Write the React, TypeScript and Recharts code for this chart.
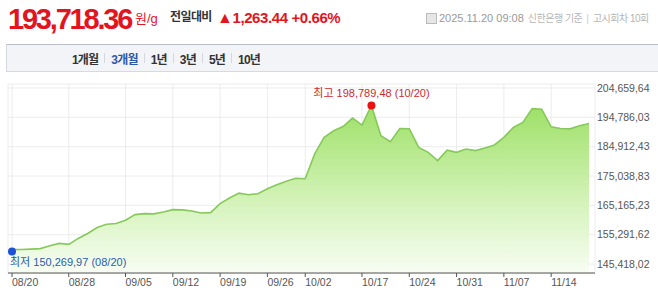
import React from 'react';
import { AreaChart, Area, XAxis, YAxis, CartesianGrid } from 'recharts';

// 신한은행 금 시세 (원/g), 영업일 기준 3개월
const dates = [
    '08/20', '08/21', '08/22', '08/25', '08/26', '08/27', '08/28', '08/29',
    '09/01', '09/02', '09/03', '09/04', '09/05', '09/08', '09/09', '09/10', '09/11', '09/12',
    '09/15', '09/16', '09/17', '09/18', '09/19', '09/22', '09/23', '09/24', '09/25', '09/26',
    '09/29', '09/30', '10/01', '10/02', '10/10', '10/13', '10/14', '10/15', '10/16', '10/17',
    '10/20', '10/21', '10/22', '10/23', '10/24', '10/27', '10/28', '10/29', '10/30', '10/31',
    '11/03', '11/04', '11/05', '11/06', '11/07', '11/10', '11/11', '11/12', '11/13', '11/14',
    '11/17', '11/18', '11/19', '11/20'
];

const prices = [
    150269.97, 150300, 150440, 150600, 151543, 152346, 152012, 154020,
    155693, 157701, 158806, 159040, 160145, 162053, 162387, 162300, 162923, 163726,
    163650, 163258, 162588, 162722, 165734, 167609, 169282, 168747, 169081, 170755,
    172094, 173298, 174303, 174102, 182469, 188025, 190268, 191707, 194518, 192175,
    198789.48, 188594, 186586, 191038, 190950, 184678, 183005, 180227, 183741, 183005,
    184143, 183574, 184478, 185482, 188025, 191372, 193046, 197732, 197531, 191607,
    191038, 190900, 191941, 192711
];

const tickDates = ['08/20', '08/28', '09/05', '09/12', '09/19', '09/26', '10/02', '10/17', '10/24', '10/31', '11/07', '11/14'];
const yTicks = [145418.02, 155291.62, 165165.23, 175038.83, 184912.43, 194786.03, 204659.64];
const periods = ['1개월', '3개월', '1년', '3년', '5년', '10년'];
const activePeriod = '3개월';

const data = dates.map((d, i) => ({ i, date: d, price: prices[i] }));
const tickIdx = tickDates.map((d) => dates.indexOf(d));
const maxIdx = prices.indexOf(Math.max(...prices));
const minIdx = prices.indexOf(Math.min(...prices));

const fmt = (v: number) => {
    const [int, dec] = v.toFixed(2).split('.');
    return int.replace(/\B(?=(\d{3})+(?!\d))/g, ',') + ',' + dec;
};

const red = '#e3141d';

const renderDot = (props: any) => {
    const { cx, cy, index } = props;
    if (index === maxIdx) {
        return (
            <g key="max">
                <circle cx={cx} cy={cy} r={4} fill="#ee1111" />
                <text x={cx} y={cy - 8} textAnchor="middle" fill="#d0282e" fontSize={11}>
                    최고 {fmt(prices[maxIdx])} ({dates[maxIdx]})
                </text>
            </g>
        );
    }
    if (index === minIdx) {
        return (
            <g key="min">
                <circle cx={cx} cy={cy + 2} r={4} fill="#1d52d6" />
                <text x={cx - 2} y={cy + 16} textAnchor="start" fill="#2a5cab" fontSize={11}>
                    최저 {fmt(prices[minIdx])} ({dates[minIdx]})
                </text>
            </g>
        );
    }
    return <g key={`d${index}`} />;
};

export default function App() {
    return (
        <div
            style={{
                position: 'absolute',
                left: 0,
                top: 0,
                width: 658,
                height: 301,
                background: '#fff',
                fontFamily: "'Liberation Sans', 'Noto Sans CJK KR', sans-serif",
                overflow: 'hidden'
            }}
        >
            {/* 현재가 */}
            <div style={{ position: 'absolute', left: 8, top: 5, fontSize: 29, lineHeight: '29px', fontWeight: 700, color: red, letterSpacing: -2.2 }}>
                193,718.36
            </div>
            <div style={{ position: 'absolute', left: 135, top: 11, fontSize: 13, lineHeight: '15px', color: red }}>원/g</div>
            <div style={{ position: 'absolute', left: 170, top: 10, fontSize: 12, lineHeight: '15px', color: '#333', fontWeight: 700, letterSpacing: -0.6 }}>
                전일대비
            </div>
            <div style={{ position: 'absolute', left: 217, top: 9, fontSize: 15, lineHeight: '17px', color: red, fontWeight: 700, letterSpacing: -0.4, whiteSpace: 'nowrap' }}>
                <span style={{ fontSize: 16 }}>▲</span>1,263.44 +0.66%
            </div>

            {/* 고시 정보 */}
            <div style={{ position: 'absolute', left: 426, top: 12, fontSize: 11, lineHeight: '13px', color: '#999', display: 'flex', alignItems: 'center', whiteSpace: 'nowrap' }}>
                <span style={{ display: 'inline-block', width: 9, height: 9, border: '1px solid #bbb', background: '#e6e6e6', marginRight: 2 }} />
                <span>2025.11.20 09:08</span>
                <span style={{ color: '#b5b5b5', fontSize: 10, marginLeft: 4, letterSpacing: -0.5 }}>신한은행 기준</span>
                <span style={{ color: '#ccc', fontSize: 10, margin: '0 4px' }}>|</span>
                <span style={{ color: '#b5b5b5', fontSize: 10, letterSpacing: -0.5 }}>고시회차 10회</span>
            </div>

            {/* 기간 선택 */}
            <div
                style={{
                    position: 'absolute',
                    left: 6,
                    top: 44,
                    width: 644,
                    height: 26,
                    background: '#f2f4f8',
                    borderTop: '1px solid #b9bdc6',
                    borderLeft: '1px solid #d6d9df',
                    borderRight: '1px solid #d6d9df',
                    borderBottom: '1px solid #d6d9df',
                    display: 'flex',
                    alignItems: 'center',
                    paddingLeft: 65,
                    boxSizing: 'content-box'
                }}
            >
                {periods.map((p, i) => (
                    <React.Fragment key={p}>
                        {i > 0 && <span style={{ width: 1, height: 10, background: '#d4d7dd', margin: '0 6px' }} />}
                        <span
                            style={{
                                fontSize: 12,
                                fontWeight: 700,
                                letterSpacing: -0.8,
                                color: p === activePeriod ? '#2d58a6' : '#333'
                            }}
                        >
                            {p}
                        </span>
                    </React.Fragment>
                ))}
            </div>

            {/* 차트 */}
            <div style={{ position: 'absolute', left: 0, top: 76 }}>
                <AreaChart width={658} height={225} data={data} margin={{ top: 8, right: 0, bottom: 0, left: 8 }}>
                    <defs>
                        <linearGradient id="goldFill" x1="0" y1="0" x2="0" y2="1">
                            <stop offset="0%" stopColor="#9de066" />
                            <stop offset="55%" stopColor="#d2f2b6" />
                            <stop offset="100%" stopColor="#f8fdf4" />
                        </linearGradient>
                    </defs>
                    <CartesianGrid stroke="#ececec" />
                    <XAxis
                        type="number"
                        dataKey="i"
                        domain={[0, dates.length - 1]}
                        ticks={tickIdx}
                        interval={0}
                        tickFormatter={(v: number) => dates[v]}
                        padding={{ left: 4, right: 6 }}
                        height={28}
                        stroke="#555"
                        tickSize={4}
                        tickMargin={2}
                        tick={{ fill: '#555', fontSize: 10.5, textAnchor: 'start' }}
                    />
                    <YAxis
                        orientation="right"
                        domain={[142389, 206006]}
                        ticks={yTicks}
                        interval={0}
                        width={63}
                        axisLine={false}
                        tickLine={false}
                        tickSize={0}
                        tickMargin={2}
                        tickFormatter={fmt}
                        tick={{ fill: '#555', fontSize: 10.5 }}
                    />
                    <Area
                        type="linear"
                        dataKey="price"
                        stroke="#86c95a"
                        strokeWidth={1.6}
                        fill="url(#goldFill)"
                        fillOpacity={1}
                        dot={renderDot}
                        activeDot={false}
                        isAnimationActive={false}
                    />
                </AreaChart>
            </div>
        </div>
    );
}
